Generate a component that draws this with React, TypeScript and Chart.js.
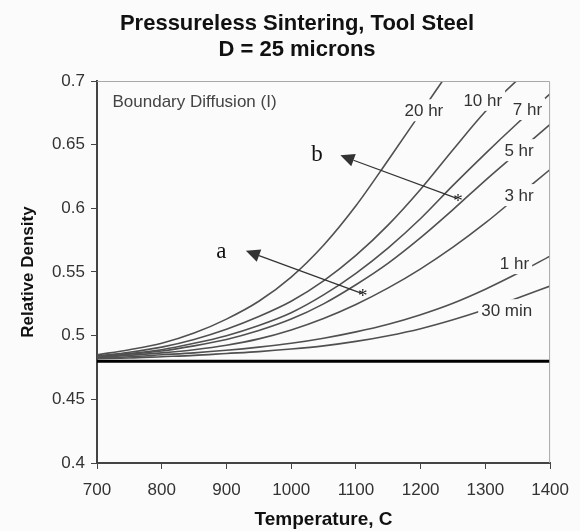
import React, { useEffect, useRef } from 'react';
import { Chart, registerables } from 'chart.js';

Chart.register(...registerables);

// ---- data ----
const temps = [700, 750, 800, 850, 900, 950, 1000, 1050, 1100, 1150, 1200, 1250, 1300, 1350, 1400];
const min30 = [0.482, 0.4825, 0.4835, 0.4845, 0.486, 0.4875, 0.4895, 0.492, 0.4955, 0.5, 0.5055, 0.5125, 0.5205, 0.5295, 0.539];
const hr1 = [0.4825, 0.4835, 0.485, 0.4865, 0.4885, 0.491, 0.494, 0.498, 0.503, 0.509, 0.5165, 0.5255, 0.5365, 0.549, 0.5625];
const hr3 = [0.483, 0.4845, 0.4865, 0.489, 0.4925, 0.4975, 0.5045, 0.5135, 0.5245, 0.5375, 0.5525, 0.5695, 0.5885, 0.6095, 0.6305];
const hr5 = [0.4835, 0.4855, 0.488, 0.492, 0.497, 0.504, 0.513, 0.525, 0.54, 0.557, 0.577, 0.599, 0.622, 0.644, 0.666];
const hr7 = [0.484, 0.486, 0.489, 0.494, 0.5, 0.508, 0.518, 0.532, 0.549, 0.569, 0.592, 0.618, 0.643, 0.667, 0.69];
const hr10 = [0.484, 0.487, 0.491, 0.497, 0.505, 0.515, 0.527, 0.543, 0.563, 0.587, 0.615, 0.646, 0.676, 0.701, 0.721];
const hr20 = [0.485, 0.489, 0.494, 0.502, 0.513, 0.527, 0.546, 0.571, 0.602, 0.638, 0.675, 0.712];
const baseline = 0.48;

const seriesNames = ['30 min', '1 hr', '3 hr', '5 hr', '7 hr', '10 hr', '20 hr'];
const seriesValues = [min30, hr1, hr3, hr5, hr7, hr10, hr20];
// label anchor positions (temperature, density)
const labelT = [1333, 1345, 1352, 1352, 1365, 1296, 1205];
const labelV = [0.52, 0.557, 0.6104, 0.6457, 0.678, 0.6852, 0.677];

const xTicks = [700, 800, 900, 1000, 1100, 1200, 1300, 1400];
const yTicks = [0.4, 0.45, 0.5, 0.55, 0.6, 0.65, 0.7];

const titleLines = ['Pressureless Sintering, Tool Steel', 'D = 25 microns'];
const xTitle = 'Temperature, C';
const yTitle = 'Relative Density';
const noteText = 'Boundary Diffusion (I)';
const noteT = 710;
const noteV = 0.683;

const arrowLabels = ['a', 'b'];
const arrowLabelT = [892, 1040];
const arrowLabelV = [0.5651, 0.641];
const arrowTipT = [930, 1076];
const arrowTipV = [0.5667, 0.6416];
const arrowTailT = [1109, 1256];
const arrowTailV = [0.5332, 0.6078];

const BG = '#fbfbfb';
const SANS = '"Liberation Sans", Arial, sans-serif';
const SERIF = '"Liberation Serif", "Times New Roman", serif';

const drawPlugin = {
  id: 'drawPlugin',
  beforeDraw(chart: any) {
    const ctx = chart.ctx;
    ctx.save();
    ctx.fillStyle = BG;
    ctx.fillRect(0, 0, chart.width, chart.height);
    ctx.restore();
  },
  afterDatasetsDraw(chart: any) {
    const ctx = chart.ctx;
    const ca = chart.chartArea;
    const xs = chart.scales.x;
    const ys = chart.scales.y;
    const px = (t: number) => xs.getPixelForValue(t);
    const py = (v: number) => ys.getPixelForValue(v);
    ctx.save();

    // frame top/right
    ctx.strokeStyle = '#a8a8a8';
    ctx.lineWidth = 1;
    ctx.beginPath();
    ctx.moveTo(ca.left, ca.top + 0.5);
    ctx.lineTo(ca.right - 0.5, ca.top + 0.5);
    ctx.lineTo(ca.right - 0.5, ca.bottom);
    ctx.stroke();

    // curve labels
    ctx.font = '17px ' + SANS;
    ctx.textAlign = 'center';
    ctx.textBaseline = 'middle';
    seriesNames.forEach((name, i) => {
      const cx = px(labelT[i]);
      const cy = py(labelV[i]);
      const w = ctx.measureText(name).width;
      ctx.fillStyle = BG;
      ctx.fillRect(cx - w / 2 - 3, cy - 11, w + 6, 22);
      ctx.fillStyle = '#333';
      ctx.fillText(name, cx, cy + 1);
    });

    // note
    ctx.font = '17px ' + SANS;
    ctx.textAlign = 'left';
    ctx.fillStyle = '#444';
    ctx.fillText(noteText, px(noteT) + 9, py(noteV));

    // arrows
    arrowLabels.forEach((lab, i) => {
      const x1 = px(arrowTailT[i]);
      const y1 = py(arrowTailV[i]);
      const x2 = px(arrowTipT[i]);
      const y2 = py(arrowTipV[i]);
      const ang = Math.atan2(y2 - y1, x2 - x1);
      const hl = 14;
      const hw = 6.5;
      const bx = x2 - hl * Math.cos(ang);
      const by = y2 - hl * Math.sin(ang);
      ctx.strokeStyle = '#333';
      ctx.lineWidth = 1.2;
      ctx.beginPath();
      ctx.moveTo(x1, y1);
      ctx.lineTo(bx, by);
      ctx.stroke();
      ctx.fillStyle = '#333';
      ctx.beginPath();
      ctx.moveTo(x2, y2);
      ctx.lineTo(bx + hw * Math.sin(ang), by - hw * Math.cos(ang));
      ctx.lineTo(bx - hw * Math.sin(ang), by + hw * Math.cos(ang));
      ctx.closePath();
      ctx.fill();
      // asterisk
      ctx.font = '19px ' + SERIF;
      ctx.textAlign = 'center';
      ctx.fillStyle = '#222';
      ctx.fillText('*', x1 + 1, y1 + 4);
      // letter
      ctx.font = '23px ' + SERIF;
      ctx.fillStyle = '#111';
      ctx.fillText(lab, px(arrowLabelT[i]), py(arrowLabelV[i]) - 1);
    });
    ctx.restore();
  },
  afterDraw(chart: any) {
    const ctx = chart.ctx;
    const ca = chart.chartArea;
    ctx.save();
    ctx.fillStyle = '#111';
    ctx.textAlign = 'center';
    ctx.textBaseline = 'middle';
    ctx.font = 'bold 22px ' + SANS;
    const tx = chart.width / 2 + 7;
    ctx.fillText(titleLines[0], tx, 24);
    ctx.fillText(titleLines[1], tx, 50);
    ctx.font = 'bold 19px ' + SANS;
    ctx.fillText(xTitle, (ca.left + ca.right) / 2, ca.bottom + 57);
    ctx.font = 'bold 17px ' + SANS;
    ctx.translate(28, (ca.top + ca.bottom) / 2);
    ctx.rotate(-Math.PI / 2);
    ctx.fillText(yTitle, 0, 0);
    ctx.restore();
  },
};

export default function App() {
  const ref = useRef<HTMLCanvasElement | null>(null);
  useEffect(() => {
    if (!ref.current) return;
    const datasets: any[] = seriesValues.map((vals, i) => ({
      label: seriesNames[i],
      data: vals.map((v, j) => ({ x: temps[j], y: v })),
      borderColor: '#505050',
      borderWidth: 1.6,
      pointRadius: 0,
      fill: false,
      cubicInterpolationMode: 'monotone',
    }));
    datasets.push({
      label: 'base',
      data: [
        { x: temps[0], y: baseline },
        { x: temps[temps.length - 1], y: baseline },
      ],
      borderColor: '#000',
      borderWidth: 3,
      pointRadius: 0,
      fill: false,
    });
    const chart = new Chart(ref.current, {
      type: 'line',
      data: { datasets },
      options: {
        animation: false,
        responsive: true,
        maintainAspectRatio: false,
        layout: { padding: { top: 81, right: 22, left: 0, bottom: 0 } },
        plugins: { legend: { display: false }, tooltip: { enabled: false }, title: { display: false } },
        scales: {
          x: {
            type: 'linear',
            min: 700,
            max: 1400,
            afterFit: (s: any) => { s.height = 68; },
            afterBuildTicks: (s: any) => { s.ticks = xTicks.map((v) => ({ value: v })); },
            ticks: {
              font: { size: 17, family: SANS },
              color: '#333',
              padding: 11,
              callback: (v: any) => String(Math.round(Number(v))),
            },
            grid: { drawOnChartArea: false, drawTicks: true, tickLength: 6, tickColor: '#444' },
            border: { display: true, color: '#444', width: 2 },
          },
          y: {
            type: 'linear',
            min: 0.4,
            max: 0.7,
            afterFit: (s: any) => { s.width = 97; },
            afterBuildTicks: (s: any) => { s.ticks = yTicks.map((v) => ({ value: v })); },
            ticks: {
              font: { size: 17, family: SANS },
              color: '#333',
              padding: 6,
              callback: (v: any) => String(Number(Number(v).toFixed(2))),
            },
            grid: { drawOnChartArea: false, drawTicks: true, tickLength: 6, tickColor: '#444' },
            border: { display: true, color: '#444', width: 2 },
          },
        },
      },
      plugins: [drawPlugin],
    });
    return () => chart.destroy();
  }, []);
  return (
    <div style={{ position: 'fixed', left: 0, top: 0, width: 580, height: 531 }}>
      <canvas ref={ref} />
    </div>
  );
}
